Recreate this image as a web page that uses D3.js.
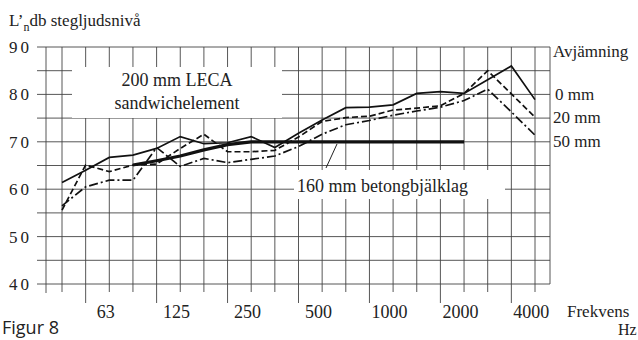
<!DOCTYPE html>
<html>
<head>
<meta charset="utf-8">
<script src="https://cdn.jsdelivr.net/npm/d3@7"></script>
<style>
  body { margin: 0; background: #fff; }
  svg text { font-family: "Liberation Serif", "DejaVu Serif", serif; fill: #222; }
</style>
</head>
<body>
<svg id="chart" width="638" height="340"></svg>
<script>
// third-octave bands, Hz
const freqs = ['50', '63', '80', '100', '125', '160', '200', '250', '315', '400', '500',
  '630', '800', '1000', '1250', '1600', '2000', '2500', '3150', '4000', '5000'];
const tickFreqs = ['63', '125', '250', '500', '1000', '2000', '4000'];
const yTicks = [40, 50, 60, 70, 80, 90];

// L'n in dB, one value per band
const levels0mm = [61.4, 64.0, 66.7, 67.2, 68.6, 71.1, 69.6, 69.8, 71.1, 68.8, 71.8,
  74.6, 77.2, 77.3, 77.8, 80.2, 80.6, 80.2, 83.1, 86.0, 78.9];
const levels20mm = [55.6, 65.1, 63.7, 65.1, 65.3, 68.6, 71.6, 67.9, 67.9, 68.2, 71.0,
  74.3, 75.1, 75.4, 76.7, 77.1, 77.6, 80.2, 85.0, 80.1, 75.2];
const levels50mm = [56.5, 60.5, 61.9, 61.9, 68.8, 64.8, 66.5, 65.6, 66.3, 67.0, 69.0,
  71.6, 73.6, 74.5, 75.6, 76.5, 77.3, 78.7, 81.1, 76.3, 71.4];
// 160 mm betongbjälklag, 100..2500 Hz
const concreteFreqs = ['100', '125', '160', '200', '250', '315', '400', '500', '630',
  '800', '1000', '1250', '1600', '2000', '2500'];
const concreteLevels = [65.1, 66.0, 67.0, 68.3, 69.4, 70, 70, 70, 70, 70, 70, 70, 70, 70, 70];

const svg = d3.select('#chart');

const frame = {left: 46, right: 550, top: 47, bottom: 284};

const x = d3.scalePoint()
  .domain(freqs)
  .range([62, 535]);

const y = d3.scaleLinear()
  .domain([40, 90])
  .range([frame.bottom, frame.top]);

const grid = svg.append('g')
  .attr('stroke', '#444')
  .attr('stroke-width', 0.9);

// horizontal lines every 5 dB, poking out left of the frame
grid.selectAll('line.h')
  .data(d3.range(40, 91, 5))
  .enter().append('line')
  .attr('x1', 37).attr('x2', frame.right)
  .attr('y1', d => y(d)).attr('y2', d => y(d));

// vertical lines per band, long ones at the labelled octaves
grid.selectAll('line.v')
  .data(freqs)
  .enter().append('line')
  .attr('x1', d => x(d)).attr('x2', d => x(d))
  .attr('y1', frame.top)
  .attr('y2', d => tickFreqs.includes(d) ? 303 : 292);

grid.append('line')
  .attr('x1', frame.left).attr('x2', frame.left)
  .attr('y1', frame.top).attr('y2', 293);
grid.append('line')
  .attr('x1', frame.right).attr('x2', frame.right)
  .attr('y1', frame.top).attr('y2', frame.bottom);

// white label boxes hide the grid
svg.append('rect')
  .attr('x', 72).attr('y', 67).attr('width', 210).attr('height', 51)
  .attr('fill', '#fff');
svg.append('rect')
  .attr('x', 294).attr('y', 170).attr('width', 211).attr('height', 29)
  .attr('fill', '#fff');

svg.append('g').selectAll('text')
  .data(yTicks)
  .enter().append('text')
  .attr('x', 9)
  .attr('y', d => y(d) + 6)
  .attr('font-size', 17)
  .attr('letter-spacing', 3)
  .text(d => d);

svg.append('g').selectAll('text')
  .data(tickFreqs)
  .enter().append('text')
  .attr('x', d => x(d) + 20)
  .attr('y', 318)
  .attr('text-anchor', 'middle')
  .attr('font-size', 18)
  .text(d => d);

const line = d3.line()
  .x((d, i) => x(freqs[i]))
  .y(d => y(d));

const series = [
  {values: levels0mm, dash: null},
  {values: levels20mm, dash: '6,3'},
  {values: levels50mm, dash: '9,3,2,3'}
];

svg.append('g')
  .attr('fill', 'none')
  .attr('stroke', '#111')
  .attr('stroke-width', 1.7)
  .selectAll('path')
  .data(series)
  .enter().append('path')
  .attr('stroke-dasharray', d => d.dash)
  .attr('d', d => line(d.values));

svg.append('path')
  .datum(concreteLevels)
  .attr('fill', 'none')
  .attr('stroke', '#111')
  .attr('stroke-width', 3.2)
  .attr('d', d3.line()
    .x((d, i) => x(concreteFreqs[i]))
    .y(d => y(d)));

// leader from label to the thick line
svg.append('line')
  .attr('x1', 326).attr('y1', 168)
  .attr('x2', 337).attr('y2', 144)
  .attr('stroke', '#222').attr('stroke-width', 1);

const labels = [
  {t: '200 mm LECA', x: 177, y: 86, a: 'middle', s: 18},
  {t: 'sandwichelement', x: 177, y: 109, a: 'middle', s: 18},
  {t: '160 mm betongbjälklag', x: 297, y: 192, a: 'start', s: 18},
  {t: 'Avjämning', x: 553, y: 57, a: 'start', s: 17},
  {t: '0 mm', x: 555, y: 100, a: 'start', s: 17},
  {t: '20 mm', x: 553, y: 123, a: 'start', s: 17},
  {t: '50 mm', x: 553, y: 147, a: 'start', s: 17},
  {t: 'Frekvens', x: 567, y: 317, a: 'start', s: 17},
  {t: 'Hz', x: 618, y: 335, a: 'start', s: 16}
];

svg.append('g').selectAll('text')
  .data(labels)
  .enter().append('text')
  .attr('x', d => d.x).attr('y', d => d.y)
  .attr('text-anchor', d => d.a)
  .attr('font-size', d => d.s)
  .attr('xml:space', 'preserve')
  .text(d => d.t);

const title = svg.append('text')
  .attr('x', 9).attr('y', 26)
  .attr('font-size', 17);
title.append('tspan').text('L’');
title.append('tspan').attr('font-size', 12).attr('dy', 5).text('n');
title.append('tspan').attr('dy', -5).text('db stegljudsnivå');

svg.append('text')
  .attr('x', 2).attr('y', 334)
  .attr('font-size', 18)
  .style('font-family', '"Open Sans", "Noto Sans", sans-serif')
  .text('Figur 8');
</script>
</body>
</html>
